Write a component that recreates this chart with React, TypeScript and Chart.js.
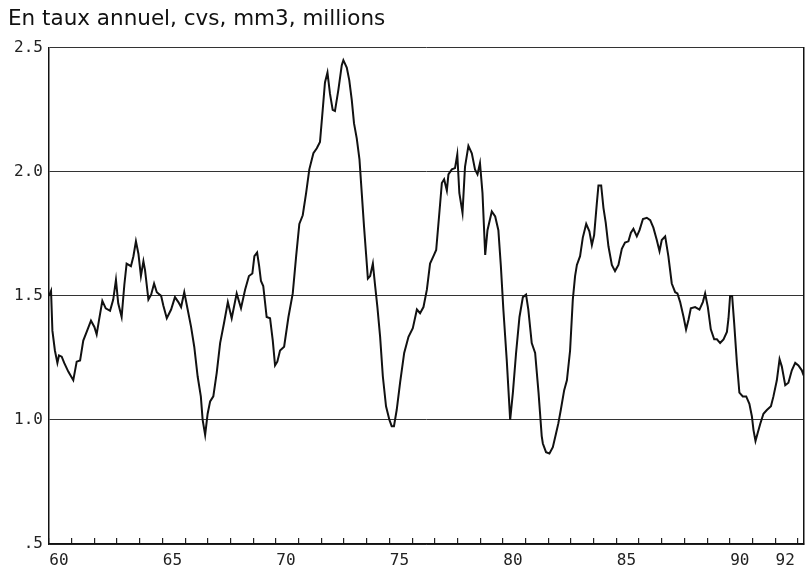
import React, { useEffect, useRef } from 'react';
import { Chart, registerables } from 'chart.js';

Chart.register(...registerables);

const TITLE = 'En taux annuel, cvs, mm3, millions';
const X_MIN = 60;
const X_MAX = 93.25;
const YEAR_TICKS = [60, 61, 62, 63, 64, 65, 66, 67, 68, 69, 70, 71, 72, 73, 74, 75, 76, 77, 78, 79, 80, 81, 82, 83, 84, 85, 86, 87, 88, 89, 90, 91, 92, 93];
const LABELLED_YEARS = [60, 65, 70, 75, 80, 85, 90, 92];
const Y_TICKS = [0.5, 1.0, 1.5, 2.0, 2.5];

// 1960 - 1966
const years1 = [60.00, 60.09, 60.15, 60.26, 60.37, 60.44, 60.56, 60.67, 60.85, 61.07, 61.22, 61.37, 61.51, 61.66, 61.85, 62.00, 62.10, 62.20, 62.35, 62.50, 62.69, 62.83, 62.95, 63.05, 63.20, 63.32, 63.42, 63.61, 63.72, 63.83, 63.94, 64.05, 64.16, 64.23, 64.38, 64.50, 64.63, 64.75, 64.94, 65.04, 65.19, 65.38, 65.55, 65.70, 65.82, 65.96, 66.11, 66.26, 66.40, 66.55, 66.69, 66.77, 66.88];
const values1 = [1.50, 1.52, 1.36, 1.28, 1.23, 1.26, 1.255, 1.23, 1.195, 1.16, 1.235, 1.24, 1.32, 1.355, 1.40, 1.375, 1.345, 1.40, 1.48, 1.45, 1.44, 1.485, 1.565, 1.47, 1.415, 1.545, 1.63, 1.62, 1.66, 1.72, 1.67, 1.58, 1.64, 1.605, 1.485, 1.505, 1.55, 1.515, 1.50, 1.46, 1.41, 1.445, 1.495, 1.475, 1.455, 1.515, 1.445, 1.375, 1.295, 1.175, 1.095, 1.0, 0.94];

// 1967 - 1975
const years2 = [66.99, 67.10, 67.24, 67.39, 67.54, 67.71, 67.88, 68.05, 68.27, 68.46, 68.64, 68.81, 68.96, 69.05, 69.17, 69.26, 69.34, 69.44, 69.59, 69.74, 69.86, 69.96, 70.06, 70.18, 70.36, 70.55, 70.74, 70.89, 71.03, 71.18, 71.33, 71.47, 71.65, 71.80, 71.94, 72.06, 72.16, 72.27, 72.38, 72.50, 72.60, 72.75, 72.90, 72.97, 73.12, 73.23, 73.34, 73.44, 73.56, 73.68, 73.78, 73.88, 73.97, 74.05, 74.15, 74.27, 74.37, 74.47, 74.59, 74.71, 74.85, 75.00, 75.10, 75.20];
const values2 = [1.025, 1.075, 1.095, 1.19, 1.31, 1.39, 1.475, 1.41, 1.51, 1.45, 1.525, 1.58, 1.59, 1.66, 1.675, 1.62, 1.56, 1.54, 1.415, 1.41, 1.32, 1.22, 1.235, 1.28, 1.295, 1.415, 1.51, 1.66, 1.79, 1.825, 1.915, 2.01, 2.075, 2.095, 2.12, 2.25, 2.36, 2.40, 2.315, 2.25, 2.245, 2.33, 2.43, 2.45, 2.42, 2.37, 2.29, 2.195, 2.135, 2.05, 1.915, 1.78, 1.67, 1.57, 1.58, 1.63, 1.54, 1.455, 1.335, 1.175, 1.055, 1.0, 0.975, 0.975];

// 1975 - 1982
const years3 = [75.32, 75.47, 75.65, 75.84, 76.03, 76.21, 76.35, 76.50, 76.65, 76.79, 76.94, 77.06, 77.20, 77.31, 77.41, 77.53, 77.60, 77.75, 77.89, 77.99, 78.08, 78.22, 78.33, 78.48, 78.63, 78.77, 78.88, 78.99, 79.10, 79.22, 79.32, 79.51, 79.66, 79.80, 79.91, 80.02, 80.17, 80.32, 80.44, 80.58, 80.73, 80.88, 81.02, 81.12, 81.27, 81.42, 81.57, 81.71, 81.76, 81.90, 82.05, 82.20, 82.34, 82.44, 82.55, 82.70, 82.82, 82.96];
const values3 = [1.04, 1.15, 1.27, 1.335, 1.37, 1.445, 1.43, 1.455, 1.525, 1.63, 1.66, 1.685, 1.835, 1.955, 1.97, 1.925, 1.99, 2.01, 2.015, 2.07, 1.915, 1.835, 2.02, 2.105, 2.075, 2.01, 1.99, 2.035, 1.915, 1.665, 1.765, 1.84, 1.82, 1.765, 1.62, 1.445, 1.24, 1.0, 1.11, 1.27, 1.415, 1.495, 1.505, 1.445, 1.31, 1.27, 1.11, 0.935, 0.905, 0.87, 0.865, 0.89, 0.945, 0.985, 1.04, 1.12, 1.16, 1.28];

// 1983 - 1989
const years4 = [83.08, 83.18, 83.26, 83.40, 83.52, 83.67, 83.81, 83.92, 84.02, 84.14, 84.21, 84.33, 84.43, 84.53, 84.65, 84.80, 84.94, 85.09, 85.24, 85.38, 85.53, 85.64, 85.75, 85.90, 86.02, 86.17, 86.34, 86.49, 86.63, 86.78, 86.90, 87.00, 87.15, 87.29, 87.44, 87.59, 87.69, 87.81, 87.96, 88.07, 88.18, 88.28, 88.47, 88.66, 88.81, 88.91, 89.03, 89.16, 89.31, 89.43, 89.57, 89.72, 89.87, 89.94];
const values4 = [1.485, 1.58, 1.625, 1.66, 1.735, 1.79, 1.76, 1.705, 1.745, 1.875, 1.945, 1.945, 1.855, 1.795, 1.70, 1.625, 1.60, 1.625, 1.69, 1.715, 1.72, 1.755, 1.77, 1.74, 1.765, 1.81, 1.815, 1.805, 1.775, 1.725, 1.68, 1.725, 1.74, 1.66, 1.55, 1.515, 1.51, 1.475, 1.415, 1.365, 1.405, 1.45, 1.455, 1.445, 1.475, 1.51, 1.455, 1.365, 1.325, 1.325, 1.31, 1.325, 1.355, 1.41];

// 1990 - 1992
const years5 = [90.01, 90.10, 90.19, 90.31, 90.42, 90.57, 90.72, 90.86, 90.97, 91.04, 91.13, 91.22, 91.34, 91.48, 91.63, 91.81, 91.92, 92.07, 92.19, 92.29, 92.44, 92.58, 92.73, 92.88, 93.02, 93.17, 93.25];
const values5 = [1.50, 1.50, 1.39, 1.23, 1.11, 1.095, 1.095, 1.065, 1.015, 0.96, 0.915, 0.945, 0.985, 1.025, 1.04, 1.055, 1.095, 1.16, 1.245, 1.215, 1.14, 1.15, 1.20, 1.23, 1.22, 1.20, 1.18];

const ALL_YEARS = [...years1, ...years2, ...years3, ...years4, ...years5];
const ALL_VALUES = [...values1, ...values2, ...values3, ...values4, ...values5];

const TICK_FONT = { family: "'DejaVu Sans Mono', 'Liberation Mono', monospace", size: 16 };

export default function App() {
  const canvasRef = useRef<HTMLCanvasElement | null>(null);

  useEffect(() => {
    const canvas = canvasRef.current;
    if (!canvas) return;
    const points = ALL_YEARS.map((x, i) => ({ x, y: ALL_VALUES[i] }));
    const chart = new Chart(canvas, {
      type: 'line',
      data: {
        datasets: [
          {
            data: points,
            borderColor: '#111',
            borderWidth: 2,
            pointRadius: 0,
            tension: 0,
            fill: false,
          },
        ],
      },
      options: {
        animation: false,
        responsive: false,
        devicePixelRatio: 1,
        layout: { padding: { left: 8, right: 7, top: 0, bottom: 0 } },
        plugins: {
          legend: { display: false },
          tooltip: { enabled: false },
          title: {
            display: true,
            text: TITLE,
            align: 'start',
            color: '#111',
            font: { family: "'DejaVu Sans', sans-serif", size: 21.5, weight: 'normal', lineHeight: 1.2 },
            padding: { top: 7, bottom: 15 },
          },
        },
        scales: {
          x: {
            type: 'linear',
            min: X_MIN,
            max: X_MAX,
            afterBuildTicks: (s: any) => {
              s.ticks = YEAR_TICKS.map((v) => ({ value: v }));
            },
            afterFit: (s: any) => {
              s.height = 27;
            },
            grid: { drawOnChartArea: false, drawTicks: true, tickLength: -6, color: '#222', lineWidth: 1.2 },
            border: { display: true, color: '#111', width: 1.5 },
            ticks: {
              autoSkip: false,
              maxRotation: 0,
              padding: 13,
              labelOffset: 10,
              color: '#222',
              font: TICK_FONT,
              callback: (v: any) => (LABELLED_YEARS.includes(Number(v)) ? String(v) : ''),
            },
          },
          y: {
            min: 0.5,
            max: 2.5,
            afterBuildTicks: (s: any) => {
              s.ticks = Y_TICKS.map((v) => ({ value: v }));
            },
            afterFit: (s: any) => {
              s.width = 41;
            },
            grid: { color: '#333', lineWidth: 1, drawTicks: false },
            border: { display: true, color: '#111', width: 1.5 },
            ticks: {
              padding: 6,
              color: '#222',
              font: TICK_FONT,
              callback: (v: any) => (Number(v) === 0.5 ? '.5' : Number(v).toFixed(1)),
            },
          },
          y2: {
            position: 'right',
            min: 0.5,
            max: 2.5,
            grid: { display: false },
            border: { display: true, color: '#111', width: 1.5 },
            ticks: { display: false },
            afterFit: (s: any) => {
              s.width = 0;
            },
          },
        },
      },
    } as any);
    return () => chart.destroy();
  }, []);

  return (
    <div style={{ position: 'absolute', left: 0, top: 0, width: 811, height: 571, background: '#fff' }}>
      <canvas ref={canvasRef} width={811} height={571} style={{ display: 'block', width: 811, height: 571 }} />
    </div>
  );
}
